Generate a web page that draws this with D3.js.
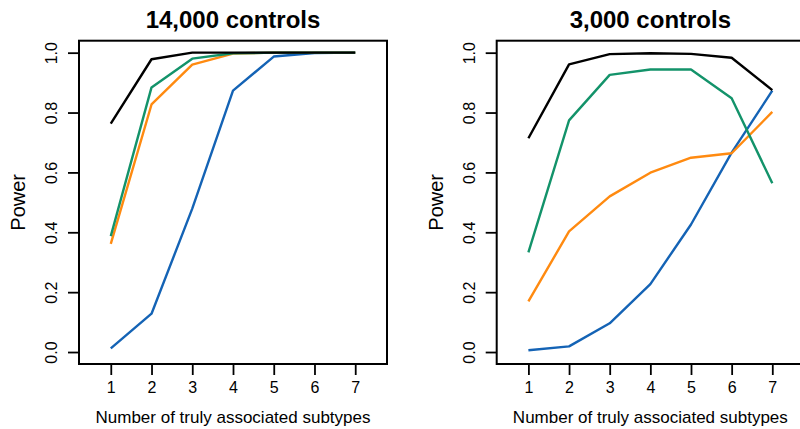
<!DOCTYPE html>
<html>
<head>
<meta charset="utf-8">
<script src="https://cdn.jsdelivr.net/npm/d3@7"></script>
<style>
  html, body { margin: 0; padding: 0; background: #fff; }
  svg { display: block; font-family: "Liberation Sans", Arial, Helvetica, sans-serif; }
</style>
</head>
<body>
<svg id="chart" width="800" height="429"></svg>
<script>
// ---- data ----
const subtypes = [1, 2, 3, 4, 5, 6, 7];
const yTicks = [0.0, 0.2, 0.4, 0.6, 0.8, 1.0];
const panelTitles = ["14,000 controls", "3,000 controls"];
const xLabel = "Number of truly associated subtypes";
const yLabel = "Power";

// 14,000 controls
const left_black  = [0.763, 0.978, 1.000, 1.000, 1.000, 1.000, 1.000];
const left_green  = [0.387, 0.884, 0.980, 0.998, 1.000, 1.000, 1.000];
const left_orange = [0.361, 0.827, 0.960, 0.997, 1.000, 1.000, 1.000];
const left_blue   = [0.012, 0.128, 0.479, 0.873, 0.987, 0.999, 1.000];

// 3,000 controls
const right_black  = [0.714, 0.961, 0.995, 0.998, 0.996, 0.983, 0.875];
const right_green  = [0.333, 0.774, 0.926, 0.944, 0.944, 0.848, 0.564];
const right_orange = [0.169, 0.403, 0.520, 0.599, 0.649, 0.664, 0.802];
const right_blue   = [0.006, 0.019, 0.096, 0.227, 0.426, 0.666, 0.873];

const seriesNames = ["blue", "orange", "green", "black"];
const seriesColors = { black: "#000000", green: "#13936a", orange: "#ff8a10", blue: "#1463b5" };

const panels = [
  { title: panelTitles[0], series: { black: left_black, green: left_green, orange: left_orange, blue: left_blue }, left: 79, right: 387 },
  { title: panelTitles[1], series: { black: right_black, green: right_green, orange: right_orange, blue: right_blue }, left: 496.7, right: 804 }
];

// ---- drawing ----
const svg = d3.select("#chart");
const plotTop = 40.7, plotBottom = 364;
const tickLen = 11;

panels.forEach(p => {
  // R-style 4% extension of xlim [0.5, 7.5] and ylim [0, 1]
  const x = d3.scaleLinear().domain([0.22, 7.78]).range([p.left, p.right]);
  const y = d3.scaleLinear().domain([-0.04, 1.04]).range([plotBottom, plotTop]);
  const g = svg.append("g");

  const line = d3.line().x((d, i) => x(subtypes[i])).y(d => y(d));

  seriesNames.forEach(name => {
    g.append("path")
      .datum(p.series[name])
      .attr("d", line)
      .attr("fill", "none")
      .attr("stroke", seriesColors[name])
      .attr("stroke-width", 2.4)
      .attr("stroke-linejoin", "round");
  });

  // box
  g.append("rect")
    .attr("x", p.left).attr("y", plotTop)
    .attr("width", p.right - p.left).attr("height", plotBottom - plotTop)
    .attr("fill", "none").attr("stroke", "#000").attr("stroke-width", 2);

  // x axis
  const xAxis = d3.axisBottom(x).tickValues(subtypes).tickSize(tickLen).tickPadding(7).tickFormat(d3.format("d"));
  const gx = g.append("g").attr("transform", `translate(0,${plotBottom})`).call(xAxis);
  gx.select(".domain").remove();
  gx.selectAll(".tick line").attr("stroke", "#000").attr("stroke-width", 1.8);
  gx.selectAll(".tick text").attr("font-size", 16).attr("fill", "#000")
    .attr("font-family", "'Liberation Sans', Arial, sans-serif");

  // y axis (rotated labels like R's default)
  const yAxis = d3.axisLeft(y).tickValues(yTicks).tickSize(tickLen).tickFormat(d3.format(".1f"));
  const gy = g.append("g").attr("transform", `translate(${p.left},0)`).call(yAxis);
  gy.select(".domain").remove();
  gy.selectAll(".tick line").attr("stroke", "#000").attr("stroke-width", 1.8);
  gy.selectAll(".tick text")
    .attr("font-size", 16).attr("fill", "#000")
    .attr("font-family", "'Liberation Sans', Arial, sans-serif")
    .attr("x", null).attr("dy", null)
    .attr("text-anchor", "middle")
    .attr("transform", "translate(-22,0) rotate(-90)");

  // title
  g.append("text")
    .attr("x", (p.left + p.right) / 2).attr("y", 28)
    .attr("text-anchor", "middle")
    .attr("font-size", 24).attr("font-weight", "bold")
    .text(p.title);

  // x label
  g.append("text")
    .attr("x", (p.left + p.right) / 2).attr("y", 423)
    .attr("text-anchor", "middle")
    .attr("font-size", 17)
    .text(xLabel);

  // y label
  g.append("text")
    .attr("transform", `translate(${p.left - 54},${(plotTop + plotBottom) / 2}) rotate(-90)`)
    .attr("text-anchor", "middle")
    .attr("font-size", 20)
    .text(yLabel);
});
</script>
</body>
</html>
